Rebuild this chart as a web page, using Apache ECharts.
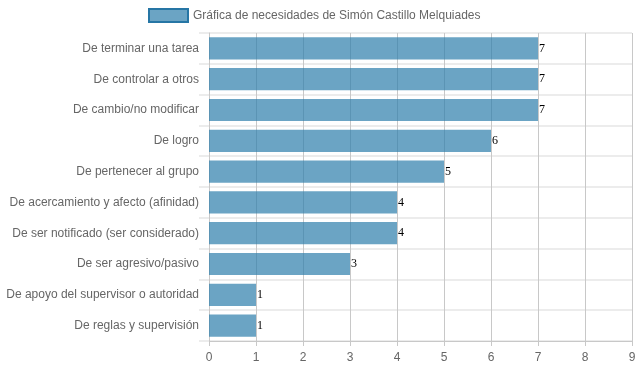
<!DOCTYPE html>
<html><head><meta charset="utf-8">
<script src="https://cdn.jsdelivr.net/npm/echarts@6/dist/echarts.min.js"></script>
<style>html,body{margin:0;padding:0;background:#fff}#c{width:639px;height:372px}</style>
</head><body><div id="c"></div>
<script>
const categories = ["De terminar una tarea","De controlar a otros","De cambio/no modificar","De logro","De pertenecer al grupo","De acercamiento y afecto (afinidad)","De ser notificado (ser considerado)","De ser agresivo/pasivo","De apoyo del supervisor o autoridad","De reglas y supervisión"];
const values = [7,7,7,6,5,4,4,3,1,1];
const seriesName = "Gráfica de necesidades de Simón Castillo Melquiades";
const chart = echarts.init(document.getElementById('c'), null, {renderer:'canvas'});
const font = 'Liberation Sans, Arial, sans-serif';
chart.setOption({
  animation:false,
  legend:{top:8,left:148,padding:0,itemWidth:39,itemHeight:13,itemGap:8,icon:'rect',
    textStyle:{color:'#666',fontSize:12,fontFamily:font},
    data:[{name:seriesName,itemStyle:{color:'rgba(44,126,171,0.7)',borderColor:'rgba(38,118,165,1)',borderWidth:2}}]},
  grid:{left:209,right:7,top:33,bottom:31,containLabel:false},
  xAxis:{type:'value',min:0,max:9,interval:1,
    axisLine:{show:true,lineStyle:{color:'#c8c8c8'}},
    axisTick:{show:true,length:5,lineStyle:{color:'#c8c8c8'}},
    axisLabel:{color:'#666',fontSize:12,fontFamily:font,margin:11},
    splitLine:{show:true,lineStyle:{color:'#c8c8c8',width:1}}},
  yAxis:{type:'category',data:categories,inverse:true,
    axisLine:{show:true,lineStyle:{color:'#c8c8c8'}},
    axisTick:{show:true,length:10,lineStyle:{color:'#ececec',width:2}},
    axisLabel:{color:'#666',fontSize:12,fontFamily:font,margin:10},
    splitLine:{show:true,lineStyle:{color:'#ececec',width:2}}},
  series:[{name:seriesName,type:'bar',data:values,barCategoryGap:'28%',
    itemStyle:{color:'rgba(44,126,171,0.7)'},
    label:{show:true,position:'right',distance:1,color:'#000',fontSize:12,fontFamily:'Liberation Serif, Times New Roman, serif'}}]
});
</script></body></html>
